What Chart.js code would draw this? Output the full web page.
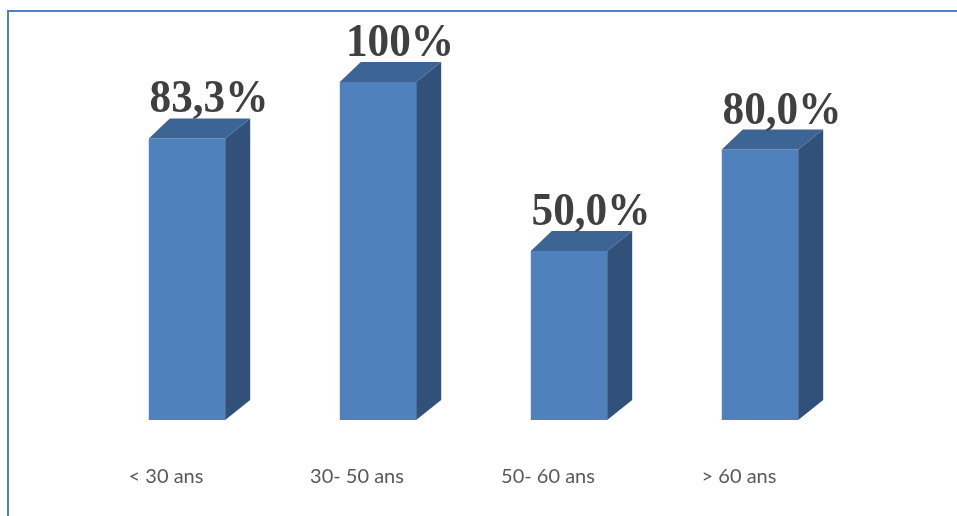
<!DOCTYPE html>
<html>
<head>
<meta charset="utf-8">
<script src="https://cdn.jsdelivr.net/npm/chart.js@4"></script>
<style>
  html, body { margin: 0; padding: 0; background: #fff; }
  #wrap { width: 957px; height: 516px; position: relative; }
</style>
</head>
<body>
<div id="wrap"><canvas id="chart"></canvas></div>
<script>
const categories = ['< 30 ans', '30- 50 ans', '50- 60 ans', '> 60 ans'];
const values = [83.3, 100, 50, 80];
const valueLabels = ['83,3%', '100%', '50,0%', '80,0%'];

const depthX = 25;
const depthY = 20;

// frame line on the left and top, like the original picture
const framePlugin = {
    id: 'frame',
    beforeDraw(chart) {
        const ctx = chart.ctx;
        ctx.save();
        ctx.strokeStyle = '#4f81bd';
        ctx.lineWidth = 2;
        ctx.beginPath();
        ctx.moveTo(8, chart.height + 2);
        ctx.lineTo(8, 11);
        ctx.lineTo(chart.width + 2, 11);
        ctx.stroke();
        ctx.restore();
    }
};

// side + top faces and value labels
const box3dPlugin = {
    id: 'box3d',
    afterDatasetsDraw(chart) {
        const ctx = chart.ctx;
        const meta = chart.getDatasetMeta(0);
        ctx.save();
        meta.data.forEach((bar, i) => {
            const p = bar.getProps(['x', 'y', 'base', 'width'], true);
            const left = p.x - p.width / 2;
            const right = p.x + p.width / 2;

            ctx.fillStyle = '#31517a';
            ctx.beginPath();
            ctx.moveTo(right, p.y);
            ctx.lineTo(right + depthX, p.y - depthY);
            ctx.lineTo(right + depthX, p.base - depthY);
            ctx.lineTo(right, p.base);
            ctx.closePath();
            ctx.fill();

            ctx.fillStyle = '#3c6494';
            ctx.beginPath();
            ctx.moveTo(left, p.y);
            ctx.lineTo(left + depthX - 4, p.y - depthY);
            ctx.lineTo(right + depthX, p.y - depthY);
            ctx.lineTo(right, p.y);
            ctx.closePath();
            ctx.fill();

            ctx.save();
            ctx.translate(p.x + 22, p.y - depthY - 6);
            ctx.scale(0.94, 1);
            ctx.font = 'bold 46px "Liberation Serif", "Times New Roman", serif';
            ctx.fillStyle = '#404040';
            ctx.textAlign = 'center';
            ctx.textBaseline = 'alphabetic';
            ctx.fillText(valueLabels[i], 0, 0);
            ctx.restore();
        });
        ctx.restore();
    }
};

new Chart(document.getElementById('chart'), {
    type: 'bar',
    data: {
        labels: categories,
        datasets: [{
            data: values,
            backgroundColor: '#4f81bd',
            borderWidth: 0,
            categoryPercentage: 1,
            barPercentage: 0.4
        }]
    },
    options: {
        responsive: true,
        maintainAspectRatio: false,
        animation: false,
        layout: { padding: { left: 91.5, right: 101.5, top: 14.4, bottom: 0 } },
        plugins: { legend: { display: false }, tooltip: { enabled: false } },
        scales: {
            y: { display: false, min: 0, max: 120 },
            x: {
                afterFit(scale) { scale.height = 96; },
                grid: { display: false, drawTicks: false },
                border: { display: false },
                ticks: {
                    padding: 45,
                    labelOffset: -21,
                    color: '#595959',
                    font: { family: 'Lato, "Open Sans", sans-serif', size: 20 }
                }
            }
        }
    },
    plugins: [framePlugin, box3dPlugin]
});
</script>
</body>
</html>
